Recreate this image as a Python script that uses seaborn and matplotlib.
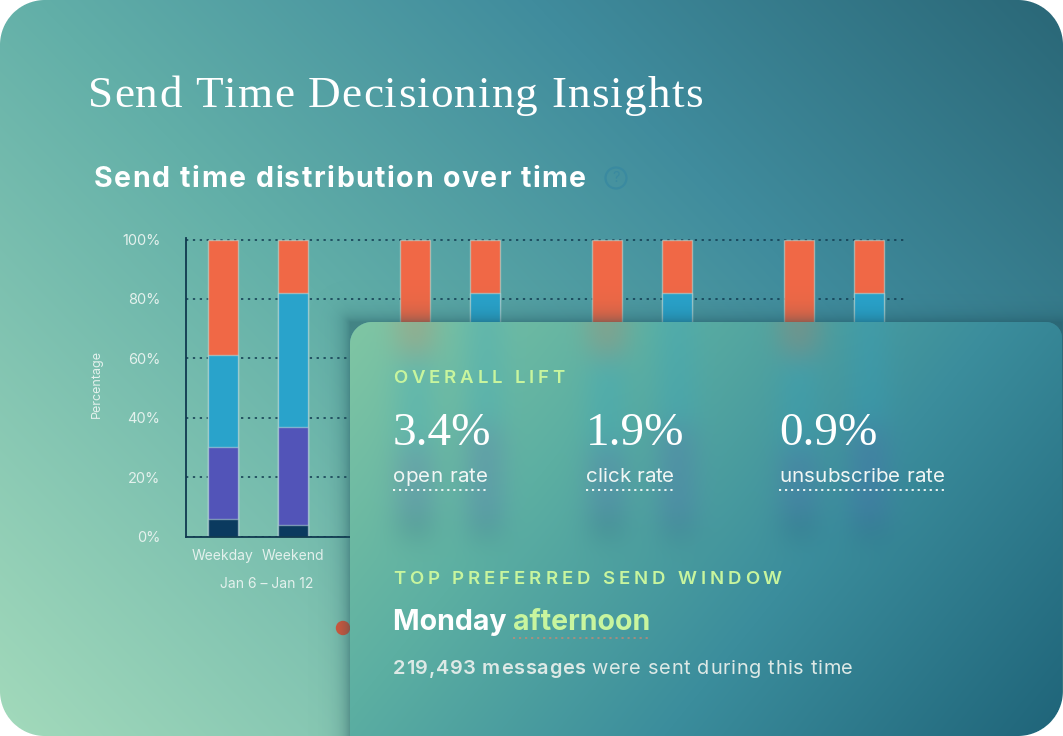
import numpy as np
import pandas as pd
import matplotlib
matplotlib.use("Agg")
import matplotlib.pyplot as plt
import matplotlib.colors as mcolors
from matplotlib.patches import Circle
from matplotlib.transforms import ScaledTranslation
import seaborn as sns

W, H = 1063, 736

# ---- data ----
weeks = ["Jan 6 – Jan 12", "Jan 13 – Jan 19", "Jan 20 – Jan 26", "Jan 27 – Feb 2"]
day_types = ["Weekday", "Weekend"]
night = [6, 4, 6, 4, 6, 4, 6, 4]
morning = [24, 33, 24, 33, 24, 33, 24, 33]
afternoon = [31, 45, 31, 45, 31, 45, 31, 45]
evening = [39, 18, 39, 18, 39, 18, 39, 18]
y_ticks = [0, 20, 40, 60, 80, 100]

lift_values = ["3.4%", "1.9%", "0.9%"]
lift_labels = ["open rate", "click rate", "unsubscribe rate"]
top_day, top_part = "Monday", "afternoon"
top_messages = 219493

ORANGE = "#f06846"
BLUE = "#29a3cb"
PURPLE = "#5254b8"
NAVY = "#0b3a5f"
LIME = "#c8f59e"
INK = "#10394f"
LIGHT = "#e4f1ed"
SANS = ["Inter", "DejaVu Sans"]
SERIF = ["Liberation Serif", "DejaVu Serif"]

sns.set_theme(style="white")
plt.rcParams["font.family"] = SANS

df = pd.DataFrame({
    "week": np.repeat(weeks, 2),
    "day": day_types * len(weeks),
    "night": night, "morning": morning,
    "afternoon": afternoon, "evening": evening,
})
df["c_night"] = df["night"]
df["c_morning"] = df["c_night"] + df["morning"]
df["c_afternoon"] = df["c_morning"] + df["afternoon"]
df["c_evening"] = df["c_afternoon"] + df["evening"]

fig = plt.figure(figsize=(W / 100, H / 100), dpi=100)
fig.patch.set_facecolor("white")


def px_axes(z):
    a = fig.add_axes([0, 0, 1, 1], zorder=z)
    a.set_xlim(0, W)
    a.set_ylim(H, 0)
    a.axis("off")
    return a


def ramp(t, stops):
    pos = np.array([p for p, _ in stops])
    cols = np.array([mcolors.to_rgb(c) for _, c in stops])
    return np.stack([np.interp(t, pos, cols[:, i]) for i in range(3)], axis=-1)


def rounded(xx, yy, x0, y0, x1, y1, radii):
    # soft-edged mask of a rounded rectangle, radii = tl, tr, br, bl
    m = np.clip(np.minimum.reduce([xx - x0, x1 - xx, yy - y0, y1 - yy]) + 0.5, 0, 1)
    corners = [(x0 + radii[0], y0 + radii[0], radii[0], -1, -1),
               (x1 - radii[1], y0 + radii[1], radii[1], 1, -1),
               (x1 - radii[2], y1 - radii[2], radii[2], 1, 1),
               (x0 + radii[3], y1 - radii[3], radii[3], -1, 1)]
    for cx, cy, r, sx, sy in corners:
        inside_c = (sx * (xx - cx) > 0) & (sy * (yy - cy) > 0)
        d = np.hypot(xx - cx, yy - cy)
        m = np.where(inside_c, np.clip(r - d + 0.5, 0, 1), m)
    return m


def box_blur(img, r, axis):
    pad = [(0, 0)] * img.ndim
    pad[axis] = (r + 1, r)
    p = np.pad(img, pad, mode="edge")
    c = np.cumsum(p, axis=axis)
    n = img.shape[axis]
    hi = np.take(c, np.arange(2 * r + 1, 2 * r + 1 + n), axis=axis)
    lo = np.take(c, np.arange(0, n), axis=axis)
    return (hi - lo) / (2 * r + 1)


def blur(img, r, passes=3):
    for _ in range(passes):
        img = box_blur(box_blur(img, r, 0), r, 1)
    return img


yy, xx = np.mgrid[0:H, 0:W] + 0.5

# card geometry (pixels from top-left)
cx0, cy0, cx1 = 350, 322, 1062

# ---- background ----
ax_bg = px_axes(0)
t_bg = np.clip(0.6 * xx / W + 0.4 * (1 - yy / H), 0, 1)
bg = ramp(t_bg, [(0, "#a3dabb"), (0.42, "#62afa8"), (0.7, "#408c9d"), (1, "#2a6777")])
ax_bg.imshow(bg, extent=(0, W, H, 0), aspect="auto", interpolation="bilinear")
ax_bg.set_xlim(0, W)
ax_bg.set_ylim(H, 0)
ax_bg.add_patch(Circle((343, 628), 6.5, color="#d9583b", zorder=3))

# ---- chart ----
left, right, bottom, top = 186, 905, 536.5, 239.5
ymax = 100.5
h_px = (bottom - top) * ymax / 100
ax = fig.add_axes([left / W, (H - bottom) / H, (right - left) / W, h_px / H], zorder=1)
ax.patch.set_alpha(0)

sep = (0.78, 0.90, 0.88, 0.5)
for col, color in [("c_evening", ORANGE), ("c_afternoon", BLUE),
                   ("c_morning", PURPLE), ("c_night", NAVY)]:
    sns.barplot(data=df, x="week", y=col, hue="day", order=weeks, hue_order=day_types,
                palette=[color, color], saturation=1, width=0.73, gap=0.57,
                errorbar=None, legend=False, edgecolor=sep, linewidth=1.0, ax=ax)

ax.set_xlim(-0.375, 3.37)
ax.set_ylim(0, ymax)
ax.set_yticks(y_ticks)
ax.set_yticklabels([f"{v}%" for v in y_ticks])
ax.set_xticks(range(len(weeks)))
ax.set_xticklabels(weeks)
ax.tick_params(axis="y", length=0, pad=18.5, labelsize=10.5, labelcolor=LIGHT)
ax.tick_params(axis="x", length=0, pad=29, labelsize=10, labelcolor=LIGHT)
for i, lbl in enumerate(ax.get_xticklabels()):
    lbl.set_transform(lbl.get_transform() + ScaledTranslation(0.09, 0, fig.dpi_scale_trans))
    # labels that sit under the card are not visible in the picture
    if ax.transData.transform((i, 0))[0] > cx0:
        lbl.set_visible(False)
ax.set_axisbelow(True)
ax.grid(axis="y", color=INK, linestyle=(0, (1.5, 3)), linewidth=1.1)
for s in ["top", "right"]:
    ax.spines[s].set_visible(False)
for s in ["left", "bottom"]:
    ax.spines[s].set_color(INK)
    ax.spines[s].set_linewidth(1.3)
ax.set_xlabel("")
ax.set_ylabel("Percentage", fontsize=9, color=LIGHT)
ax.yaxis.set_label_coords((103 - left) / (right - left), 0.51)

centers = sorted(p.get_x() + p.get_width() / 2 for p in ax.patches[:len(df)])
for cx, name in zip(centers, day_types * len(weeks)):
    if ax.transData.transform((cx, 0))[0] < cx0:
        ax.text(cx, -6.6, name, ha="center", va="center", fontsize=10, color=LIGHT, clip_on=False)

# ---- frosted card over the chart ----
card_m = rounded(xx, yy, cx0, cy0, cx1, H + 60, (22, 16, 0, 0))
outer_m = rounded(xx, yy, 0, 0, W, H, (45, 45, 45, 45))

# raster of the bars, blurred, shows through the glass
layer = np.zeros((H, W, 3))
cover = np.zeros((H, W))
for p in ax.patches:
    (x0, y0), (x1, y1) = ax.transData.transform(
        [(p.get_x(), p.get_y()), (p.get_x() + p.get_width(), p.get_y() + p.get_height())])
    r0, r1 = int(round(H - y1)), int(round(H - y0))
    c0, c1 = int(round(x0)), int(round(x1))
    layer[r0:r1, c0:c1] = mcolors.to_rgb(p.get_facecolor())
    cover[r0:r1, c0:c1] = 1
pre = blur(layer * cover[..., None], 13)
cov = blur(cover, 13)
glow = pre / np.maximum(cov, 1e-6)[..., None]

u = (xx - cx0) / (cx1 - cx0)
v = (yy - cy0) / (H - cy0)
card = ramp(np.clip(0.68 * u + 0.32 * v, 0, 1),
            [(0, "#80c6a4"), (0.3, "#5cafa2"), (0.62, "#3b8d9c"), (1, "#1f6479")])
ga = np.clip(cov * 0.26, 0, 1)[..., None]
card = card * (1 - ga) + glow * ga

dx = np.maximum(np.maximum(cx0 - xx, 0), xx - cx1)
dy = np.maximum(cy0 - yy, 0)
dist = np.hypot(dx, dy)
shadow_a = 0.42 * np.exp(-dist / 9) * (1 - card_m) * outer_m
shadow_rgb = np.array(mcolors.to_rgb("#1b4c58"))

ca = card_m * outer_m
alpha = ca + shadow_a * (1 - ca)
rgb = (card * ca[..., None] + shadow_rgb * (shadow_a * (1 - ca))[..., None]) / np.maximum(alpha, 1e-6)[..., None]
wa = 1 - outer_m
rgb = rgb * (alpha * (1 - wa))[..., None] + wa[..., None]
alpha = alpha * (1 - wa) + wa
rgb = rgb / np.maximum(alpha, 1e-6)[..., None]
overlay = np.dstack([np.clip(rgb, 0, 1), alpha])

ax_top = px_axes(2)
ax_top.imshow(overlay, extent=(0, W, H, 0), aspect="auto", interpolation="bilinear")
ax_top.set_xlim(0, W)
ax_top.set_ylim(H, 0)

renderer = fig.canvas.get_renderer()


def width_of(t):
    return t.get_window_extent(renderer=renderer).width


def char_widths(s, kw):
    probe = ax_top.text(0, 0, "n n", **kw)
    probe2 = ax_top.text(0, 0, "nn", **kw)
    space = width_of(probe) - width_of(probe2)
    probe.remove()
    probe2.remove()
    out = []
    for ch in s:
        if ch == " ":
            out.append(space)
        else:
            t = ax_top.text(0, 0, ch, **kw)
            out.append(width_of(t))
            t.remove()
    return out


def spaced(x, y, runs, target_w):
    # runs: list of (text, style); letters spread so the line spans target_w
    widths = [char_widths(s, kw) for s, kw in runs]
    n = sum(len(s) for s, _ in runs)
    track = (target_w - sum(sum(w) for w in widths)) / max(n - 1, 1)
    spans = []
    for (s, kw), ws in zip(runs, widths):
        start = x
        for ch, w in zip(s, ws):
            if ch != " ":
                ax_top.text(x, y, ch, va="baseline", **kw)
            x += w + track
        spans.append((start, x - track))
    return spans


def dotted(x0, x1, y, color, alpha=1.0):
    ax_top.plot([x0, x1], [y, y], color=color, alpha=alpha, lw=1.4,
                linestyle=(0, (1.1, 2.0)), solid_capstyle="butt")


# titles
spaced(88, 107, [("Send Time Decisioning Insights",
                  dict(fontsize=32.5, color="white", family=SERIF))], 615)
spaced(94, 187, [("Send time distribution over time",
                  dict(fontsize=20.5, color="white", weight="bold"))], 492)
ax_top.add_patch(Circle((616, 178), 10.5, fill=False, edgecolor="#3a8aa0", lw=1.6))
ax_top.text(616, 178.5, "?", fontsize=10.5, color="#3a8aa0", ha="center", va="center")

# card text
lime_kw = dict(fontsize=13.4, color=LIME, weight="semibold")
spaced(393, 383, [("OVERALL LIFT", lime_kw)], 172)
label_w = [95, 88, 166]
for x, val, lab, lw_ in zip([393, 586, 779], lift_values, lift_labels, label_w):
    ax_top.text(x, 445, val, fontsize=34, color="white", family=SERIF, va="baseline")
    (s0, s1), = spaced(x, 482, [(lab, dict(fontsize=14.8, color="#f1f6f4"))], lw_)
    dotted(s0, s1, 489.5, "#f1f6f4")

spaced(393, 584, [("TOP PREFERRED SEND WINDOW", lime_kw)], 389)
t = ax_top.text(393, 630, top_day + " ", fontsize=20.5, color="white", weight="bold", va="baseline")
x2 = 393 + width_of(t)
t2 = ax_top.text(x2, 630, top_part, fontsize=20.5, color=LIME, weight="bold", va="baseline")
dotted(x2, x2 + width_of(t2), 637.5, "#d9866e", alpha=0.65)

msg_kw = dict(fontsize=14.4, color="#dde9e6")
spaced(393, 674, [(f"{top_messages:,} messages ", dict(msg_kw, weight="semibold")),
                  ("were sent during this time", msg_kw)], 460)

fig.savefig("out.png", dpi=100)
